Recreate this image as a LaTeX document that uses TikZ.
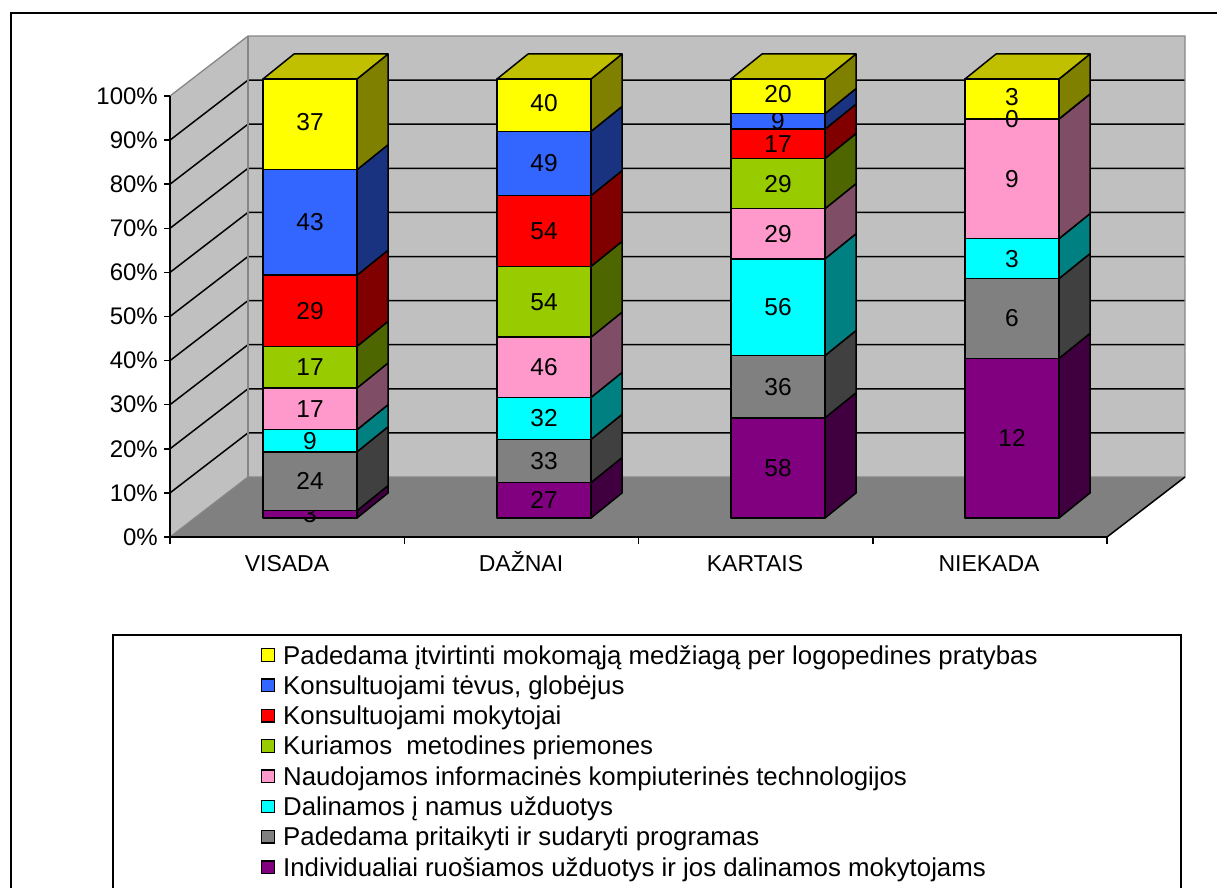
\documentclass[tikz,border=0pt]{standalone}
\usepackage{fontspec}
\setmainfont{Liberation Sans}
\definecolor{wallgray}{HTML}{C0C0C0}
\definecolor{floorgray}{HTML}{808080}
\definecolor{edgegray}{HTML}{868686}
\definecolor{seg1}{HTML}{800080}\definecolor{sid1}{HTML}{400040}
\definecolor{seg2}{HTML}{808080}\definecolor{sid2}{HTML}{404040}
\definecolor{seg3}{HTML}{00FFFF}\definecolor{sid3}{HTML}{008080}
\definecolor{seg4}{HTML}{FF99CC}\definecolor{sid4}{HTML}{804D66}
\definecolor{seg5}{HTML}{99CC00}\definecolor{sid5}{HTML}{4D6600}
\definecolor{seg6}{HTML}{FF0000}\definecolor{sid6}{HTML}{800000}
\definecolor{seg7}{HTML}{3366FF}\definecolor{sid7}{HTML}{1A3380}
\definecolor{seg8}{HTML}{FFFF00}\definecolor{sid8}{HTML}{808000}
\definecolor{top8}{HTML}{C0C000}
\begin{document}
\begin{tikzpicture}[x=1pt,y=-1pt,
  wall/.style={fill=wallgray},
  walledge/.style={draw=edgegray, line width=1.3pt},
  gridline/.style={draw=black, line width=1.5pt},
  edge/.style={draw=black, line width=1.5pt, line join=round},
  frame/.style={draw=black, line width=2pt},
  lab/.style={font=\fontsize{24.5}{28}\selectfont, inner sep=0pt},
  axlab/.style={font=\fontsize{24}{28}\selectfont, inner sep=0pt, anchor=east},
  catlab/.style={font=\fontsize{23}{28}\selectfont, inner sep=0pt, anchor=base},
  legtext/.style={font=\fontsize{25.8}{30}\selectfont, inner sep=0pt, anchor=base west},
  legmark/.style={draw=black, line width=1.3pt, minimum size=12.5pt, inner sep=0pt}]
\useasboundingbox (0,0) rectangle (1217,888);
\clip (0,0) rectangle (1217,888);
% outer frame
\draw[frame] (11,13) rectangle (1260,930);
% walls
\fill[wall] (248,36) rectangle (1185,477);
\fill[wall] (170,96) -- (248,36) -- (248,477) -- (170,537) -- cycle;
\fill[floorgray] (170,537) -- (248,477) -- (1185,477) -- (1107,537) -- cycle;
% gridlines
\foreach \k in {1,...,9}{
  \draw[gridline] (170,{537-44.1*\k}) -- (248,{477-44.1*\k}) -- (1185,{477-44.1*\k});
}
\draw[walledge] (170,96) -- (248,36) -- (1185,36) -- (1185,477);
\draw[walledge] (248,36) -- (248,477);
\draw[walledge] (170,537) -- (248,477) -- (1185,477);
\draw[edge] (1107,537) -- (1185,477);
% axes
\draw[edge] (170,96) -- (170,537) -- (1107,537);
\foreach \k in {0,...,10}{
  \draw[edge] (164,{537-44.1*\k}) -- (170,{537-44.1*\k});
  \pgfmathtruncatemacro\pc{10*\k}
  \node[axlab] (ax\k) at (158,{537-44.1*\k}) {\pc\%};
}
\foreach \t in {170,404.25,638.5,872.75,1107}{
  \draw[edge] (\t,537) -- (\t,544);
}
% bars
\foreach \cx/\vals/\tot/\b in {310/{3,24,9,17,17,29,43,37}/179/1,544/{27,33,32,46,54,54,49,40}/335/2,778/{58,36,56,29,29,17,9,20}/254/3,1012/{12,6,3,9,0,0,0,3}/33/4}{
  \gdef\cum{0}
  \foreach \v [count=\i] in \vals {
    \pgfmathsetmacro\ya{518-439*(\cum/\tot)}
    \pgfmathsetmacro\newcum{\cum+\v}
    \xdef\cum{\newcum}
    \pgfmathsetmacro\yb{518-439*(\cum/\tot)}
    \draw[edge, fill=seg\i] (\cx-47,\ya) rectangle (\cx+47,\yb);
    \draw[edge, fill=sid\i] (\cx+47,\ya) -- (\cx+78,\ya-25) -- (\cx+78,\yb-25) -- (\cx+47,\yb) -- cycle;
    \ifnum\i=8
      \node[lab] (v\b-\i) at (\cx,{(\ya+\yb)/2-2}) {\v};
    \else
      \ifnum\v>0
        \node[lab] (v\b-\i) at (\cx,{(\ya+\yb)/2}) {\v};
      \fi
    \fi
  }
  \draw[edge, fill=top8] (\cx-47,79) -- (\cx-16,54) -- (\cx+78,54) -- (\cx+47,79) -- cycle;
}
\node[lab] (v4-zero) at (1012,119) {0};
% category labels
\node[catlab] (c1) at (287,571) {VISADA};
\node[catlab] (c2) at (521,571) {DAŽNAI};
\node[catlab] (c3) at (755,571) {KARTAIS};
\node[catlab] (c4) at (989,571) {NIEKADA};
% legend
\draw[frame] (113,635) rectangle (1181,930);
\foreach \c/\t [count=\j from 0] in {
  seg8/{Padedama įtvirtinti mokomąją medžiagą per logopedines pratybas},
  seg7/{Konsultuojami tėvus, globėjus},
  seg6/{Konsultuojami mokytojai},
  seg5/{Kuriamos\ \ metodines priemones},
  seg4/{Naudojamos informacinės kompiuterinės technologijos},
  seg3/{Dalinamos į namus užduotys},
  seg2/{Padedama pritaikyti ir sudaryti programas},
  seg1/{Individualiai ruošiamos užduotys ir jos dalinamos mokytojams}}{
  \node[legmark, fill=\c] (m\j) at (268,{655+30.3*\j}) {};
  \node[legtext] (t\j) at (283,{664+30.3*\j}) {\t};
}
\end{tikzpicture}
\end{document}
